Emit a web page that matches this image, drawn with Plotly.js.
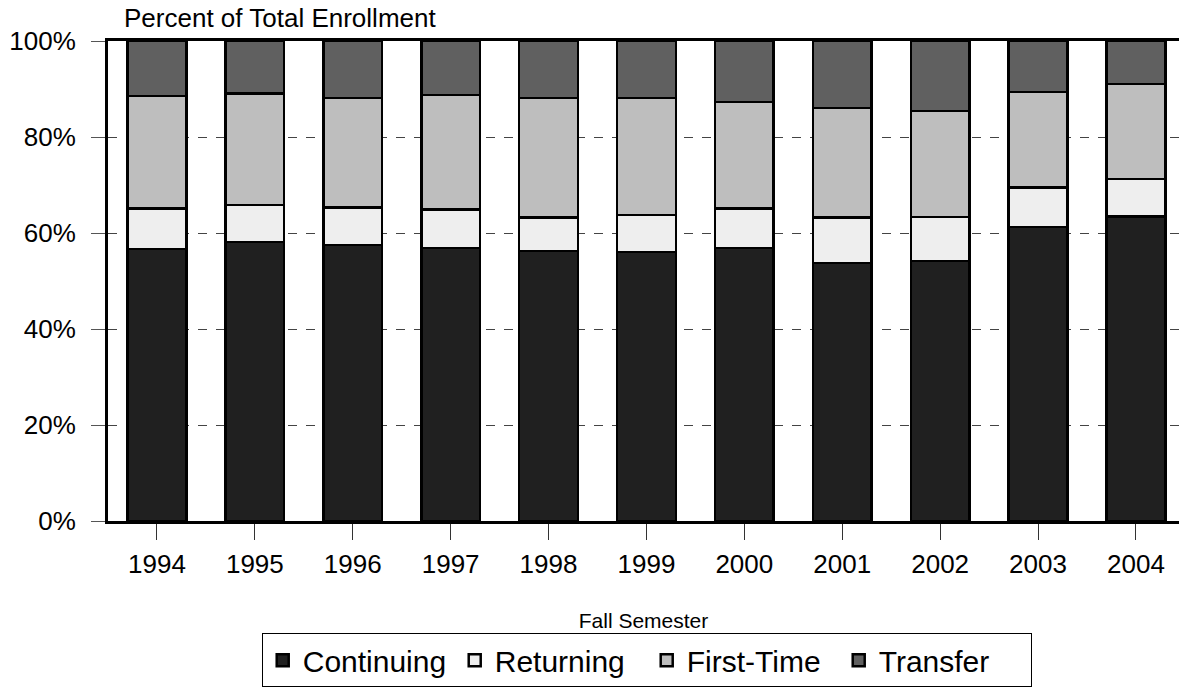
<!DOCTYPE html>
<html>
<head>
<meta charset="utf-8">
<script src="https://cdn.plot.ly/plotly-3.0.1.min.js"></script>
<style>html,body{margin:0;padding:0;background:#fff;}#chart{width:1179px;height:689px;}</style>
</head>
<body>
<div id="chart"></div>
<script>
const years = ['1994','1995','1996','1997','1998','1999','2000','2001','2002','2003','2004'];
const continuing = [56.7, 58.1, 57.5, 56.9, 56.2, 56.0, 56.9, 53.8, 54.2, 61.2, 63.4];
const returning  = [8.4, 7.7, 7.8, 8.0, 7.0, 7.8, 8.2, 9.4, 9.1, 8.3, 7.9];
const firstTime  = [23.4, 23.3, 22.8, 23.8, 24.9, 24.3, 22.2, 22.8, 22.1, 19.9, 19.7];
const transfer   = [11.5, 10.9, 11.9, 11.3, 11.9, 11.9, 12.7, 14.0, 14.6, 10.6, 9.0];
const yTicks = [0, 20, 40, 60, 80, 100];
const yTickText = ['0%', '20%', '40%', '60%', '80%', '100%'];

const FONT = 'Liberation Sans, Arial, sans-serif';
function series(name, vals, color) {
  return {
    type: 'bar', name: name, x: years, y: vals,
    marker: {color: color, line: {color: '#000', width: 2.5}},
    width: 0.6, hoverinfo: 'skip'
  };
}
const data = [
  series('Continuing', continuing, '#202020'),
  series('Returning', returning, '#eeeeee'),
  series('First-Time', firstTime, '#bebebe'),
  series('Transfer', transfer, '#606060')
];
const layout = {
  width: 1179, height: 689,
  margin: {l: 108, r: 0, t: 41, b: 168, pad: 0, autoexpand: false},
  barmode: 'stack',
  paper_bgcolor: '#fff', plot_bgcolor: '#fff',
  font: {family: FONT, color: '#000', size: 26},
  title: {text: 'Percent of Total Enrollment', x: 124/1179, xanchor: 'left',
          y: 1 - 18/689, yanchor: 'middle', yref: 'container', automargin: false,
          font: {family: FONT, size: 26, color: '#000'}},
  xaxis: {
    type: 'category', range: [-0.5, 10.44], automargin: false,
    showline: true, linewidth: 3, linecolor: '#000', mirror: true,
    ticks: 'outside', ticklen: 16, tickwidth: 1, tickcolor: '#333',
    ticklabelstandoff: 2,
    tickfont: {family: FONT, size: 26, color: '#000'},
    showgrid: false,
    title: {text: 'Fall Semester', font: {family: FONT, size: 21, color: '#000'}, standoff: 36}
  },
  yaxis: {
    range: [0, 100], tickvals: yTicks, ticktext: yTickText, automargin: false,
    showline: true, linewidth: 3, linecolor: '#000',
    ticks: 'outside', ticklen: 14, tickwidth: 1, tickcolor: '#555',
    ticklabelstandoff: 10,
    tickfont: {family: FONT, size: 26, color: '#000'},
    showgrid: true, gridcolor: '#444', griddash: 'dash', gridwidth: 1,
    zeroline: false
  },
  showlegend: true,
  legend: {
    orientation: 'h', x: 0.503, xanchor: 'center', y: -0.234, yanchor: 'top',
    bordercolor: '#000', borderwidth: 1, bgcolor: '#fff',
    font: {family: FONT, size: 30, color: '#000'},
    itemwidth: 30, entrywidth: 147, entrywidthmode: 'pixels',
    traceorder: 'normal', tracegroupgap: 0
  }
};
Plotly.newPlot('chart', data, layout, {displayModeBar: false, staticPlot: true});
</script>
</body>
</html>
